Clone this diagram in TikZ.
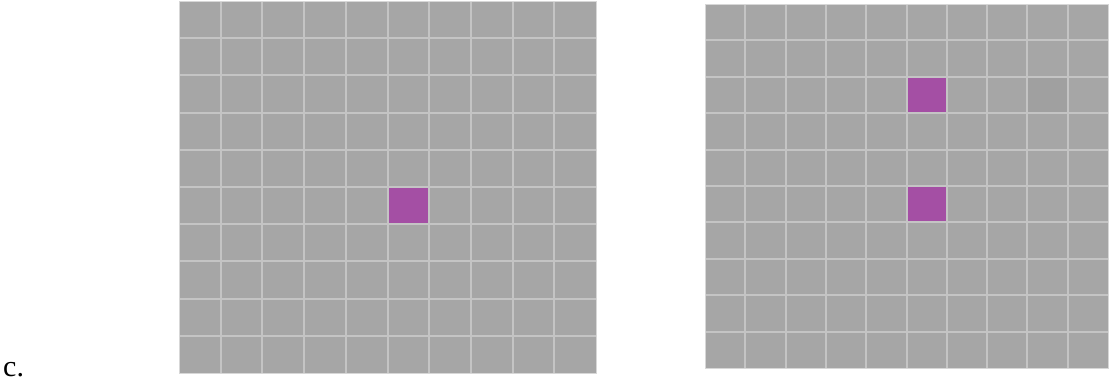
\documentclass[tikz,border=0pt]{standalone}
\usepackage{fontspec}
\setmainfont{Liberation Serif}
\definecolor{cellgray}{RGB}{166,166,166}
\definecolor{linegray}{RGB}{196,196,196}
\definecolor{edgegray}{RGB}{215,215,215}
\definecolor{darkcell}{RGB}{160,160,160}
\definecolor{mark}{RGB}{164,79,164}
\tikzset{
  gridline/.style={draw=linegray, line width=2pt},
  gridedge/.style={draw=edgegray, line width=1pt},
  markcell/.style={fill=mark},
  shadecell/.style={fill=darkcell},
}
\begin{document}
\begin{tikzpicture}[x=1pt,y=-1pt]
\path[use as bounding box, fill=white] (0,0) rectangle (1117,378);
% left grid
\def\lx{179}\def\ly{1}\def\lw{41.7}\def\lh{37.2}
\fill[cellgray] (\lx,\ly) rectangle ++(10*\lw,10*\lh);
\fill[markcell] (\lx+5*\lw+1,\ly+5*\lh+1) rectangle ++(\lw-2,\lh-2);
\foreach \i in {1,...,9} {
  \draw[gridline] (\lx+\i*\lw,\ly) -- ++(0,10*\lh);
  \draw[gridline] (\lx,\ly+\i*\lh) -- ++(10*\lw,0);
}
\draw[gridedge] (\lx,\ly) rectangle ++(10*\lw,10*\lh);
% right grid
\def\rx{705}\def\ry{4}\def\rw{40.3}\def\rh{36.4}
\fill[cellgray] (\rx,\ry) rectangle ++(10*\rw,10*\rh);
\fill[shadecell] (\rx+8*\rw+1,\ry+2*\rh+1) rectangle ++(\rw-2,\rh-2);
\fill[markcell] (\rx+5*\rw+1,\ry+2*\rh+1) rectangle ++(\rw-2,\rh-2);
\fill[markcell] (\rx+5*\rw+1,\ry+5*\rh+1) rectangle ++(\rw-2,\rh-2);
\foreach \i in {1,...,9} {
  \draw[gridline] (\rx+\i*\rw,\ry) -- ++(0,10*\rh);
  \draw[gridline] (\rx,\ry+\i*\rh) -- ++(10*\rw,0);
}
\draw[gridedge] (\rx,\ry) rectangle ++(10*\rw,10*\rh);
% label
\node[anchor=base west, inner sep=0pt, font=\fontsize{30}{30}\selectfont] (lbl) at (3,376) {c.};
\end{tikzpicture}
\end{document}
